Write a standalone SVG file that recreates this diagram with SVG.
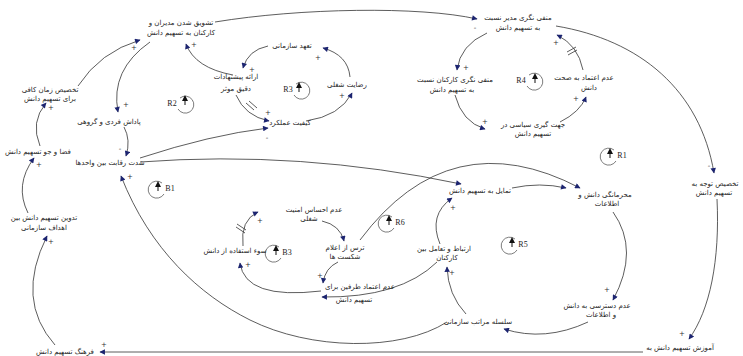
<svg xmlns="http://www.w3.org/2000/svg" width="743" height="356" viewBox="0 0 743 356">
<defs>
<style>
.t{font-family:"DejaVu Sans","Noto Sans",sans-serif;font-size:7px;fill:#222;text-anchor:middle}
.p{font-family:"DejaVu Sans",sans-serif;font-size:7px;fill:#333;text-anchor:middle}
.c{fill:none;stroke:#333;stroke-width:0.8;marker-end:url(#a)}
.d{fill:none;stroke:#333;stroke-width:0.8}
.lp{fill:none;stroke:#444;stroke-width:0.7}
.ll{font-family:"Liberation Serif",serif;font-size:8px;fill:#222;text-anchor:middle}
.tri{fill:#111}
</style>
<marker id="a" viewBox="0 0 10 10" refX="9" refY="5" markerWidth="7" markerHeight="5.5" markerUnits="userSpaceOnUse" orient="auto"><path d="M0,0 L10,5 L0,10 z" fill="#1c2470"/></marker>
</defs>
<rect width="743" height="356" fill="#fff"/>

<g id="connectors">
<path class="c" d="M215,22 C300,8 420,6 477,19"/>
<path class="c" d="M556,26 C640,40 700,90 714,173"/>
<path class="c" d="M717,199 C720,260 710,310 689,339"/>
<path class="c" d="M643,352 L100,352"/>
<path class="c" d="M55,345 Q15,300 47,236"/>
<path class="c" d="M28,213 Q14,185 34,158"/>
<path class="c" d="M40,146 Q30,122 46,103"/>
<path class="c" d="M78,86 Q100,52 140,40"/>
<path class="c" d="M150,42 Q110,70 118,112"/>
<path class="c" d="M124,127 Q131,140 126,156"/>
<path class="c" d="M140,158 Q210,135 268,128"/>
<path class="c" d="M140,162 Q300,150 461,184"/>
<path class="c" d="M233,75 Q195,68 186,44"/>
<path class="c" d="M236,95 Q245,116 269,121"/>
<path class="c" d="M306,121 Q340,116 352,93"/>
<path class="c" d="M350,77 Q348,55 323,48"/>
<path class="c" d="M268,46 Q248,50 243,68"/>
<path class="c" d="M487,33 Q460,45 457,70"/>
<path class="c" d="M455,95 Q462,122 485,129"/>
<path class="c" d="M560,122 Q580,112 586,97"/>
<path class="c" d="M583,70 Q578,45 557,35"/>
<path class="c" d="M512,188 Q540,182 566,188"/>
<path class="c" d="M613,212 Q640,250 613,300"/>
<path class="c" d="M588,322 Q545,342 504,329"/>
<path class="c" d="M466,314 Q448,295 447,267"/>
<path class="c" d="M440,244 Q428,215 452,198"/>
<path class="c" d="M360,240 Q450,120 580,188"/>
<path class="c" d="M437,262 Q400,298 322,297"/>
<path class="c" d="M338,262 Q325,268 323,283"/>
<path class="c" d="M322,221 Q340,225 344,241"/>
<path class="c" d="M243,246 Q240,220 258,212"/>
<path class="c" d="M321,291 Q245,300 240,263"/>
<path class="c" d="M447,322 C400,352 310,350 250,320 C200,295 150,250 121,176"/>
<path class="d" d="M246,103 L254,110 M249,101 L257,108"/>
<path class="d" d="M236,227 L245,233 M237,224 L246,230"/>
<path class="d" d="M567,52 L576,47 M568,55 L577,50"/>
<text class="p" x="475" y="30">-</text>
<text class="p" x="709" y="168">-</text>
<text class="p" x="682" y="336">+</text>
<text class="p" x="104" y="347">+</text>
<text class="p" x="51" y="244">+</text>
<text class="p" x="39" y="167">+</text>
<text class="p" x="51" y="110">+</text>
<text class="p" x="134" y="50">+</text>
<text class="p" x="126" y="107">+</text>
<text class="p" x="120" y="151">-</text>
<text class="p" x="267" y="140">-</text>
<text class="p" x="268" y="115">+</text>
<text class="p" x="342" y="98">+</text>
<text class="p" x="318" y="60">+</text>
<text class="p" x="252" y="72">+</text>
<text class="p" x="194" y="47">+</text>
<text class="p" x="130" y="179">+</text>
<text class="p" x="466" y="70">+</text>
<text class="p" x="485" y="124">+</text>
<text class="p" x="576" y="101">+</text>
<text class="p" x="556" y="45">+</text>
<text class="p" x="607" y="292">+</text>
<text class="p" x="452" y="275">+</text>
<text class="p" x="453" y="210">+</text>
<text class="p" x="320" y="278">+</text>
<text class="p" x="260" y="223">+</text>
<text class="p" x="248" y="267">+</text>
</g>

<g id="n-encourage"><text class="t" x="181" y="25">تشویق شدن مدیران و</text><text class="t" x="181" y="35">کارکنان به تسهیم دانش</text></g>
<g id="n-time"><text class="t" x="50" y="92">تخصیص زمان کافی</text><text class="t" x="50" y="101">برای تسهیم دانش</text></g>
<g id="n-reward"><text class="t" x="109" y="124">پاداش فردی و گروهی</text></g>
<g id="n-climate"><text class="t" x="38" y="154">فضا و جو تسهیم دانش</text></g>
<g id="n-rivalry"><text class="t" x="110" y="165">شدت رقابت بین واحدها</text></g>
<g id="n-goals"><text class="t" x="44" y="220">تدوین تسهیم دانش بین</text><text class="t" x="44" y="230">اهداف سازمانی</text></g>
<g id="n-culture"><text class="t" x="65" y="354">فرهنگ تسهیم دانش</text></g>
<g id="n-proposals"><text class="t" x="236" y="79">ارائه پیشنهادات</text><text class="t" x="236" y="91">دقیق موثر</text></g>
<g id="n-commit"><text class="t" x="292" y="48">تعهد سازمانی</text></g>
<g id="n-satisf"><text class="t" x="347" y="87">رضایت شغلی</text></g>
<g id="n-quality"><text class="t" x="290" y="125">کیفیت عملکرد</text></g>
<g id="n-mgrneg"><text class="t" x="518" y="20">منفی نگری مدیر نسبت</text><text class="t" x="518" y="30">به تسهیم دانش</text></g>
<g id="n-empneg"><text class="t" x="455" y="82">منفی نگری کارکنان نسبت</text><text class="t" x="452" y="92">به تسهیم دانش</text></g>
<g id="n-distrust"><text class="t" x="584" y="80">عدم اعتماد به صحت</text><text class="t" x="589" y="90">دانش</text></g>
<g id="n-political"><text class="t" x="533" y="127">جهت گیری سیاسی در</text><text class="t" x="533" y="136">تسهیم دانش</text></g>
<g id="n-attention"><text class="t" x="715" y="186">تخصیص توجه به</text><text class="t" x="714" y="195">تسهیم دانش</text></g>
<g id="n-secrecy"><text class="t" x="605" y="197">محرمانگی دانش و</text><text class="t" x="607" y="206">اطلاعات</text></g>
<g id="n-willing"><text class="t" x="480" y="193">تمایل به تسهیم دانش</text></g>
<g id="n-insecure"><text class="t" x="314" y="212">عدم احساس امنیت</text><text class="t" x="309" y="221">شغلی</text></g>
<g id="n-fear"><text class="t" x="345" y="250">ترس از اعلام</text><text class="t" x="345" y="259">شکست ها</text></g>
<g id="n-misuse"><text class="t" x="235" y="253">سوء استفاده از دانش</text></g>
<g id="n-mistrust"><text class="t" x="360" y="289">عدم اعتماد طرفین برای</text><text class="t" x="354" y="302">تسهیم دانش</text></g>
<g id="n-interact"><text class="t" x="444" y="251">ارتباط و تعامل بین</text><text class="t" x="447" y="260">کارکنان</text></g>
<g id="n-hierarchy"><text class="t" x="478" y="324">سلسله مراتب سازمانی</text></g>
<g id="n-access"><text class="t" x="597" y="308">عدم دسترسی به دانش</text><text class="t" x="601" y="317">و اطلاعات</text></g>
<g id="n-training"><text class="t" x="680" y="350">آموزش تسهیم دانش به</text></g>

<g id="loops">
<g id="l-R2"><path class="lp" d="M180,98 A8.5,8.5 0 1 1 178,109"/><path class="tri" d="M185,95 L182,101 L188,101 Z M184.5,101 h1 v4 h-1 Z"/><text class="ll" x="172" y="106">R2</text></g>
<g id="l-R3"><path class="lp" d="M296,84 A8.5,8.5 0 1 1 294,95"/><path class="tri" d="M299,82 L296,88 L302,88 Z M298.5,88 h1 v4 h-1 Z"/><text class="ll" x="288" y="92">R3</text></g>
<g id="l-R4"><path class="lp" d="M529,75 A8.5,8.5 0 1 1 527,86"/><path class="tri" d="M535,73 L532,79 L538,79 Z M534.5,79 h1 v4 h-1 Z"/><text class="ll" x="521" y="83">R4</text></g>
<g id="l-R1"><path class="lp" d="M614,150 A8.5,8.5 0 1 0 616,161"/><path class="tri" d="M610,148 L607,154 L613,154 Z M609.5,154 h1 v4 h-1 Z"/><text class="ll" x="622" y="158">R1</text></g>
<g id="l-B1"><path class="lp" d="M162,183 A8.5,8.5 0 1 0 164,194"/><path class="tri" d="M158,181 L155,187 L161,187 Z M157.5,187 h1 v4 h-1 Z"/><text class="ll" x="170" y="191">B1</text></g>
<g id="l-B3"><path class="lp" d="M279,247 A8.5,8.5 0 1 0 281,258"/><path class="tri" d="M276,245 L273,251 L279,251 Z M275.5,251 h1 v4 h-1 Z"/><text class="ll" x="287" y="255">B3</text></g>
<g id="l-R6"><path class="lp" d="M392,217 A8.5,8.5 0 1 0 394,228"/><path class="tri" d="M389,215 L386,221 L392,221 Z M388.5,221 h1 v4 h-1 Z"/><text class="ll" x="400" y="225">R6</text></g>
<g id="l-R5"><path class="lp" d="M515,239 A8.5,8.5 0 1 0 517,250"/><path class="tri" d="M512,237 L509,243 L515,243 Z M511.5,243 h1 v4 h-1 Z"/><text class="ll" x="523" y="247">R5</text></g>
</g>
</svg>
